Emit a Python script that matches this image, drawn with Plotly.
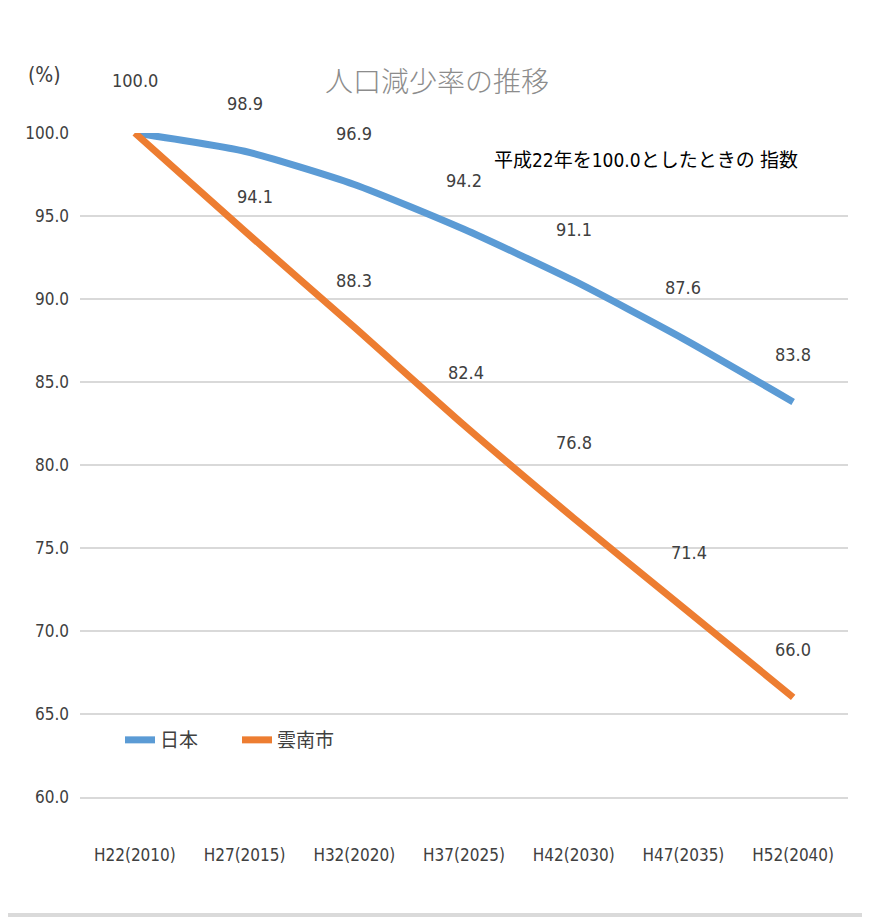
import plotly.graph_objects as go

categories = ["H22(2010)", "H27(2015)", "H32(2020)", "H37(2025)", "H42(2030)", "H47(2035)", "H52(2040)"]
japan = [100.0, 98.9, 96.9, 94.2, 91.1, 87.6, 83.8]
unnan = [100.0, 94.1, 88.3, 82.4, 76.8, 71.4, 66.0]
series_names = ["日本", "雲南市"]
y_ticks = [60, 65, 70, 75, 80, 85, 90, 95, 100]

# label pixel offsets (layout tweak)
japan_shift = [53, 48, 51, 49, 51, 51, 47]
unnan_shift = [None, 34, 47, 53, 76, 55, 48]
unnan_xshift = [0, 10, 0, 2, 0, 6, 0]

BLUE = "#5B9BD5"
ORANGE = "#ED7D31"
FONT = "DejaVu Sans Condensed, Liberation Sans Narrow, Noto Sans CJK JP, sans-serif"
CJK = "Noto Sans CJK JP, sans-serif"
TXT = "#404040"
GRID = "#D9D9D9"

PW, PH = 768, 664  # plot area size in px

fig = go.Figure()
fig.add_trace(go.Scatter(x=categories, y=japan, mode="lines", name=series_names[0],
                         line=dict(color=BLUE, width=7, shape="spline", smoothing=0.6),
                         cliponaxis=False))
fig.add_trace(go.Scatter(x=categories, y=unnan, mode="lines", name=series_names[1],
                         line=dict(color=ORANGE, width=7, shape="spline", smoothing=0.6),
                         cliponaxis=False))

ann = []
for i, (c, v) in enumerate(zip(categories, japan)):
    ann.append(dict(x=c, y=v, xref="x", yref="y", text=f"{v:.1f}", showarrow=False,
                    xanchor="center", yanchor="middle",
                    yshift=japan_shift[i], font=dict(family=FONT, size=18, color=TXT)))
for i, (c, v) in enumerate(zip(categories, unnan)):
    if unnan_shift[i] is None:
        continue
    ann.append(dict(x=c, y=v, xref="x", yref="y", text=f"{v:.1f}", showarrow=False,
                    xanchor="center", yanchor="middle",
                    yshift=unnan_shift[i], xshift=unnan_xshift[i],
                    font=dict(family=FONT, size=18, color=TXT)))

ann.append(dict(x=(437 - 80) / PW, y=(797 - 80) / PH, xref="paper", yref="paper", text="人口減少率の推移",
                xanchor="center", yanchor="middle",
                showarrow=False, font=dict(family=CJK, size=28, color="#8C8C8C", weight=300)))
ann.append(dict(x=(646 - 80) / PW, y=(797 - 160) / PH, xref="paper", yref="paper",
                text="平成22年を100.0としたときの 指数",
                xanchor="center", yanchor="middle",
                showarrow=False, font=dict(family=FONT, size=19, color="#000000")))
ann.append(dict(x=(44 - 80) / PW, y=(797 - 75) / PH, xref="paper", yref="paper", text="(%)",
                xanchor="center", yanchor="middle",
                showarrow=False, font=dict(family=FONT, size=21, color=TXT)))

fig.update_layout(
    width=862, height=912,
    margin=dict(l=72, r=22, t=125, b=123),
    paper_bgcolor="white", plot_bgcolor="white",
    showlegend=True,
    legend=dict(orientation="h", x=(120 - 80) / PW, y=(797 - 740) / PH, xanchor="left", yanchor="middle",
                font=dict(family=CJK, size=19, color=TXT), bgcolor="rgba(0,0,0,0)",
                entrywidth=72, tracegroupgap=0),
    annotations=ann,
    xaxis=dict(range=[-0.5, 6.5], showgrid=False, zeroline=False, showline=True,
               linecolor=GRID, linewidth=2, ticks="",
               tickfont=dict(family=FONT, size=17, color=TXT), ticklabelstandoff=42),
    yaxis=dict(range=[60, 100], tickvals=y_ticks, ticktext=[f"{t:.1f}" for t in y_ticks],
               showgrid=True, gridcolor=GRID, gridwidth=2, zeroline=False, showline=False,
               tickfont=dict(family=FONT, size=17, color=TXT), ticklabelstandoff=10),
    shapes=[dict(type="line", xref="paper", yref="paper",
                 x0=-72 / PW, x1=(862 - 72) / PW, y0=-(907 - 789) / PH, y1=-(907 - 789) / PH,
                 line=dict(color="#DADADA", width=4))],
)

fig.write_html("out.html")
